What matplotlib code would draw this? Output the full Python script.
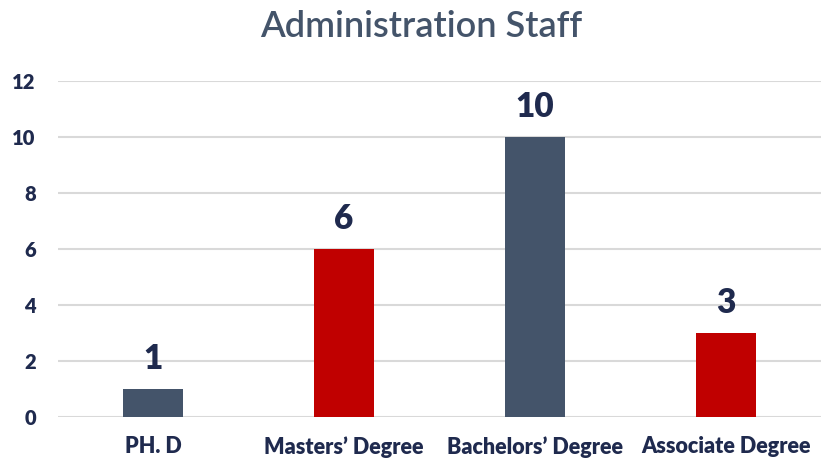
import matplotlib
matplotlib.use("Agg")
import matplotlib.pyplot as plt

categories = ["PH. D", "Masters\u2019 Degree", "Bachelors\u2019 Degree", "Associate Degree"]
values = [1, 6, 10, 3]
bar_colors = ["#44546A", "#C00000", "#44546A", "#C00000"]
yticks = [0, 2, 4, 6, 8, 10, 12]

plt.rcParams['font.family'] = ['Lato', 'DejaVu Sans']
navy = "#1F2A4E"

fig = plt.figure(figsize=(8.23, 4.63), dpi=100)
ax = fig.add_axes([0.0705, 0.0994, 0.927, 0.7256])

x = list(range(len(categories)))
bars = ax.bar(x, values, width=0.315, color=bar_colors, zorder=3)
ax.set_xlim(-0.5, len(categories) - 0.5)
ax.set_ylim(0, 12)
ax.set_yticks(yticks)
ax.set_yticklabels([str(t) for t in yticks], fontsize=14.5, fontweight='heavy', color=navy)
ax.set_xticks(x)
ax.set_xticklabels(categories, fontsize=15.5, fontweight='heavy', color=navy)
ax.tick_params(axis='both', length=0)
ax.tick_params(axis='y', pad=16)
ax.tick_params(axis='x', pad=14)
ax.grid(axis='y', color='#D9D9D9', linewidth=1.5, zorder=0)
for s in ax.spines.values():
    s.set_visible(False)

for xi, v in zip(x, values):
    ax.annotate(str(v), (xi, v), xytext=(0, 10), textcoords='offset points',
                ha='center', va='bottom', fontsize=24, fontweight='heavy', color=navy)

fig.text(0.512, 0.942, "Administration Staff", ha='center', va='center',
         fontsize=26, fontweight='semibold', color="#44546A")

fig.savefig("out.png", dpi=100)
